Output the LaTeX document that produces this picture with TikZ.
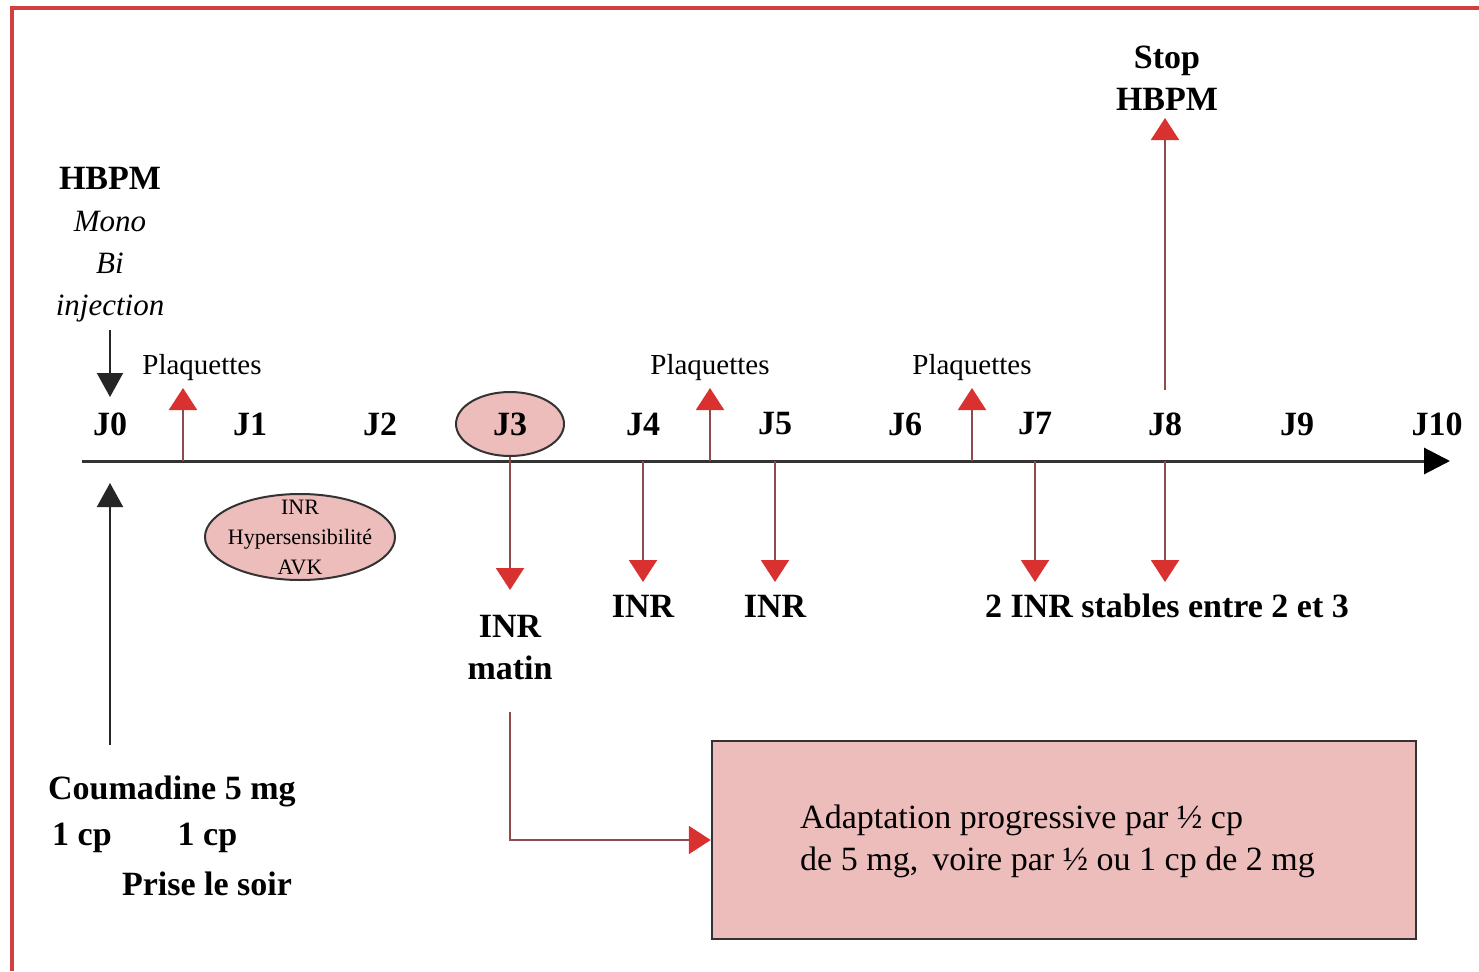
\documentclass[tikz,border=0pt]{standalone}
\usepackage{fontspec}
\setmainfont{Liberation Serif}
\usetikzlibrary{arrows.meta,shapes.geometric}
\definecolor{redline}{HTML}{8E4B4B}
\definecolor{redhead}{HTML}{D8312F}
\definecolor{pinkfill}{HTML}{EDBDBB}
\definecolor{framered}{HTML}{D0403E}
\tikzset{
  bf/.style={font=\fontsize{34}{42}\selectfont\bfseries, inner sep=0pt},
  plq/.style={font=\fontsize{29}{32}\selectfont, inner sep=0pt},
  redarrow/.style={draw=redline, line width=2pt, -{Triangle[width=28pt,length=22pt,color=redhead]}},
  blkarrow/.style={draw=black!85, line width=2pt, -{Triangle[width=26pt,length=24pt,color=black!85]}},
  pinkell/.style={ellipse, draw=black!80, line width=2pt, fill=pinkfill, inner sep=0pt},
}
\begin{document}
\begin{tikzpicture}[x=1pt,y=-1pt]
\useasboundingbox (0,0) rectangle (1479,971);
% frame
\draw[framered, line width=4pt] (12,971) -- (12,8) -- (1479,8);
% axis
\coordinate (axL) at (82,461);
\coordinate (axR) at (1450,461);
\draw[draw=black!80, line width=3pt, -{Triangle[width=26pt,length=26pt,color=black]}] (axL) -- (axR);
% day labels
\node[bf] (j0) at (110,424) {J0};
\node[bf] (j1) at (250,424) {J1};
\node[bf] (j2) at (380,424) {J2};
\node[pinkell, minimum width=108pt, minimum height=64pt, font=\fontsize{34}{40}\selectfont\bfseries] (j3) at (510,424) {J3};
\node[bf] (j4) at (643,424) {J4};
\node[bf] (j5) at (775,424) {J5};
\node[bf] (j6) at (905,424) {J6};
\node[bf] (j7) at (1035,424) {J7};
\node[bf] (j8) at (1165,424) {J8};
\node[bf] (j9) at (1297,424) {J9};
\node[bf] (j10) at (1437,424) {J10};
% HBPM block
\node[align=center, inner sep=0pt, font=\fontsize{31}{42}\selectfont] (hbpm) at (110,245)
  {\fontsize{34}{42}\selectfont\bfseries HBPM\\ \textit{Mono}\\ \textit{Bi}\\ \textit{injection}};
\coordinate (h1) at (110,330);
\coordinate (h2) at (110,397);
\draw[blkarrow] (h1) -- (h2);
% coumadine
\coordinate (c0) at (110,745);
\coordinate (c1) at (110,483);
\draw[blkarrow] (c0) -- (c1);
\node[bf, anchor=west] (coum) at (48,791) {Coumadine 5 mg};
\node[bf, anchor=west] (cp) at (52,838) {1 cp\hspace{66pt}1 cp};
\node[bf] (soir) at (207,884) {Prise le soir};
% plaquettes
\node[plq] (p1) at (202,368) {Plaquettes};
\node[plq] (p2) at (710,368) {Plaquettes};
\node[plq] (p3) at (972,368) {Plaquettes};
\coordinate (pa1) at (183,461); \coordinate (pt1) at (183,388);
\coordinate (pa2) at (710,461); \coordinate (pt2) at (710,388);
\coordinate (pa3) at (972,461); \coordinate (pt3) at (972,388);
\draw[redarrow] (pa1) -- (pt1);
\draw[redarrow] (pa2) -- (pt2);
\draw[redarrow] (pa3) -- (pt3);
% stop HBPM
\node[bf, align=center] (stop) at (1167,78) {Stop\\HBPM};
\coordinate (s0) at (1165,390);
\coordinate (s1) at (1165,118);
\draw[redarrow] (s0) -- (s1);
% INR ellipse
\node[pinkell, minimum width=190pt, minimum height=86pt, inner xsep=-6pt, inner ysep=-14pt, align=center, font=\fontsize{22}{30}\selectfont] (inrell) at (300,537)
  {INR\\Hypersensibilité\\AVK};
% INR arrows
\coordinate (t3) at (510,590);
\coordinate (a4) at (643,461); \coordinate (t4) at (643,582);
\coordinate (a5) at (775,461); \coordinate (t5) at (775,582);
\coordinate (a7) at (1035,461); \coordinate (t7) at (1035,582);
\coordinate (a8) at (1165,461); \coordinate (t8) at (1165,582);
\draw[redarrow] (j3.south) -- (t3);
\draw[redarrow] (a4) -- (t4);
\draw[redarrow] (a5) -- (t5);
\draw[redarrow] (a7) -- (t7);
\draw[redarrow] (a8) -- (t8);
\node[bf] (inr4) at (643,606) {INR};
\node[bf] (inr5) at (775,606) {INR};
\node[bf, align=center] (inrm) at (510,648) {INR\\matin};
\node[bf] (stable) at (1167,606) {2 INR stables entre 2 et 3};
% adaptation box
\node[draw=black!80, line width=2.5pt, fill=pinkfill, minimum width=704pt, minimum height=198pt, inner sep=0pt] (box) at (1064,840) {};
\node[anchor=west, align=left, inner sep=0pt, font=\fontsize{34}{42}\selectfont] (boxtxt) at (800,841)
  {Adaptation progressive par ½ cp\\de 5 mg,\, voire par ½ ou 1 cp de 2 mg};
\coordinate (m0) at (510,712);
\draw[redarrow] (m0) |- (box.west);
\end{tikzpicture}
\end{document}
